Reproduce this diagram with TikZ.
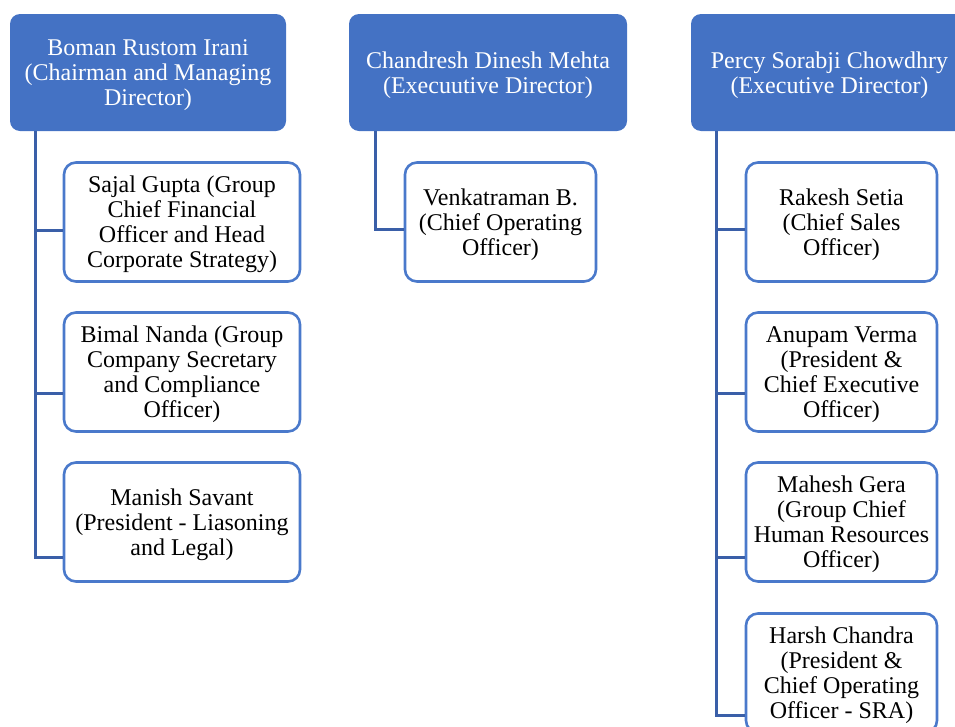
\documentclass[tikz,border=0pt]{standalone}
\usepackage{fontspec}
\setmainfont{Liberation Serif}
\usetikzlibrary{positioning, calc}
\definecolor{headcolor}{HTML}{4472C4}
\definecolor{childborder}{HTML}{4A79CB}
\definecolor{linkcolor}{HTML}{3A5FA8}

\begin{document}
\begin{tikzpicture}[
    x=1pt, y=-1pt,
    boxtext/.style={align=center, inner sep=0pt,
        font=\fontsize{24}{25}\selectfont, text depth=0pt},
    head/.style={boxtext, fill=headcolor, draw=none, rounded corners=10pt,
        minimum height=117pt, text=white},
    member/.style={boxtext, fill=white, draw=childborder, rounded corners=12pt,
        line width=2.6pt, minimum height=119pt},
    wide/.style={member, minimum width=236pt},
    narrow/.style={member, minimum width=191pt},
    link/.style={draw=linkcolor, line width=3pt},
]
\useasboundingbox (0,0) rectangle (955,726);
\clip (0,0) rectangle (955,726);

% --- Directors ---
\node[head, minimum width=276pt] (boman) at (148, 72.5)
    {Boman Rustom Irani\\(Chairman and Managing\\Director)};
\node[head, minimum width=278pt] (chandresh) at (488, 72.5)
    {Chandresh Dinesh Mehta\\(Execuutive Director)};
\node[head, minimum width=277pt] (percy) at (829.5, 72.5)
    {Percy Sorabji Chowdhry\\(Executive Director)};

% --- Reports of Boman Rustom Irani ---
\node[wide] (sajal) at (182, 222)
    {Sajal Gupta (Group\\Chief Financial\\Officer and Head\\Corporate Strategy)};
\node[wide] (bimal) at (182, 372)
    {Bimal Nanda (Group\\Company Secretary\\and Compliance\\Officer)};
\node[wide] (manish) at (182, 522)
    {Manish Savant\\(President - Liasoning\\and Legal)};

% --- Reports of Chandresh Dinesh Mehta ---
\node[narrow] (venkat) at (500.5, 222)
    {Venkatraman B.\\(Chief Operating\\Officer)};

% --- Reports of Percy Sorabji Chowdhry ---
\node[narrow] (rakesh) at (841.5, 222)
    {Rakesh Setia\\(Chief Sales\\Officer)};
\node[narrow] (anupam) at (841.5, 372)
    {Anupam Verma\\(President \&\\Chief Executive\\Officer)};
\node[narrow] (mahesh) at (841.5, 522)
    {Mahesh Gera\\(Group Chief\\Human Resources\\Officer)};
\node[narrow] (harsh) at (841.5, 673)
    {Harsh Chandra\\(President \&\\Chief Operating\\Officer - SRA)};

% --- Connectors ---
\coordinate (bomanspine) at ([xshift=26pt]boman.south west);
\coordinate (chandspine) at ([xshift=27pt]chandresh.south west);
\coordinate (percyspine) at ([xshift=26pt]percy.south west);

\foreach \who/\dy in {sajal/-8, bimal/-21, manish/-35} {
    \draw[link] (bomanspine) |- ([yshift=\dy pt]\who.west);
}
\draw[link] (chandspine) |- ([yshift=-7pt]venkat.west);
\foreach \who/\dy in {rakesh/-7, anupam/-21, mahesh/-35, harsh/-42} {
    \draw[link] (percyspine) |- ([yshift=\dy pt]\who.west);
}

\end{tikzpicture}
\end{document}
